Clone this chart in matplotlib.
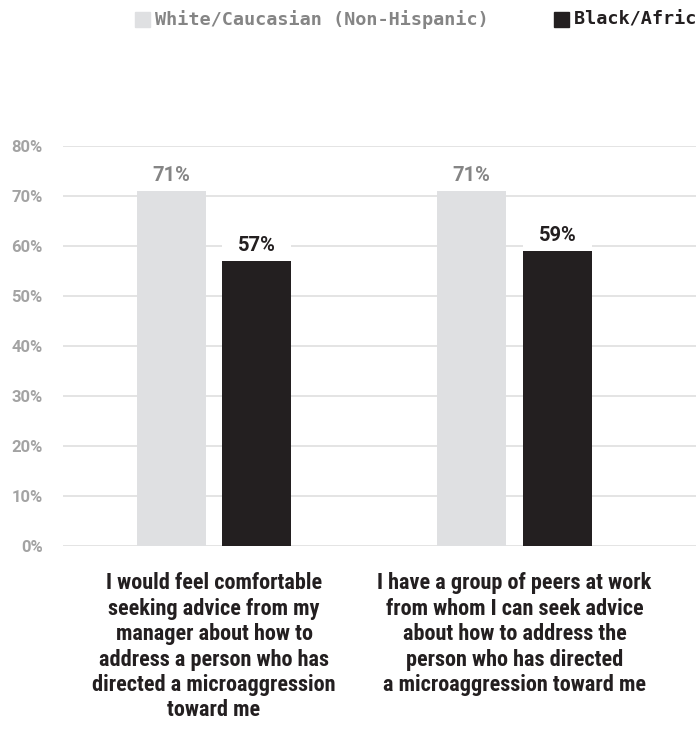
import matplotlib
matplotlib.use("Agg")
import matplotlib.pyplot as plt
from matplotlib import font_manager
import numpy as np

# survey statements and share agreeing, by group
statements = [
    "I would feel comfortable\nseeking advice from my\nmanager about how to\naddress a person who has\ndirected a microaggression\ntoward me",
    "I have a group of peers at work\nfrom whom I can seek advice\nabout how to address the\nperson who has directed\na microaggression toward me",
]
groups = ["White/Caucasian (Non-Hispanic)", "Black/African American"]
white_vals = [71, 71]
black_vals = [57, 59]
yticks = [0, 10, 20, 30, 40, 50, 60, 70, 80]

bar_colors = ["#dfe0e2", "#231f20"]
label_colors = ["#858585", "#231f20"]

names = {f.name for f in font_manager.fontManager.ttflist}
cond = [f for f in ["Roboto Condensed", "Liberation Sans Narrow"] if f in names] + ["DejaVu Sans"]
sans = [f for f in ["Roboto"] if f in names] + ["DejaVu Sans"]
mono = ["DejaVu Sans Mono"]

W, H = 696, 730
fig = plt.figure(figsize=(W / 100, H / 100), dpi=100)
fig.patch.set_facecolor("white")

# axes run off the right edge of the figure
left, right, bottom, top = 63, 755, 546, 146
ax = fig.add_axes([left / W, (H - bottom) / H, (right - left) / W, (bottom - top) / H])

x = np.arange(len(statements))
w = 0.229
off = 0.1426
for vals, dx, col, lcol in [(white_vals, -off, bar_colors[0], label_colors[0]),
                            (black_vals, off, bar_colors[1], label_colors[1])]:
    ax.bar(x + dx, vals, width=w, color=col, zorder=3)
    for xi, v in zip(x + dx, vals):
        # white strip behind the value so gridlines don't run through it
        ax.bar(xi, 4.8, bottom=v + 0.9, width=w, color="white", zorder=3.5)
        ax.text(xi, v + 2.0, f"{v}%", ha="center", va="baseline", fontsize=14.5,
                fontweight="bold", family=sans, color=lcol, zorder=4)

ax.set_xlim(-0.5025, 1.8)
ax.set_ylim(0, 80)
ax.set_yticks(yticks)
ax.set_yticklabels([f"{t}%" for t in yticks])
ax.yaxis.grid(True, color="#e2e2e2", linewidth=1.3, zorder=0)
ax.set_axisbelow(True)
for s in ax.spines.values():
    s.set_visible(False)
ax.tick_params(axis="y", length=0, pad=14.5, labelcolor="#a3a3a3", labelsize=12)
for lab in ax.get_yticklabels():
    lab.set_fontweight("bold")
    lab.set_family(sans)

ax.set_xticks(x)
ax.set_xticklabels(statements, fontsize=16, fontweight="bold", family=cond,
                   color="#231f20", linespacing=1.2)
ax.tick_params(axis="x", length=0, pad=19)

# legend row across the top
lx = [135, 554]
for px, name, col, tcol in zip(lx, groups, bar_colors, ["#858585", "#231f20"]):
    fig.patches.append(plt.Rectangle((px / W, (H - 27) / H), 15 / W, 15 / H,
                                     transform=fig.transFigure, color=col))
    fig.text((px + 20) / W, (H - 20) / H, name, ha="left", va="center",
             fontsize=13.3, fontweight="bold", family=mono, color=tcol)

fig.savefig("out.png", dpi=100)
